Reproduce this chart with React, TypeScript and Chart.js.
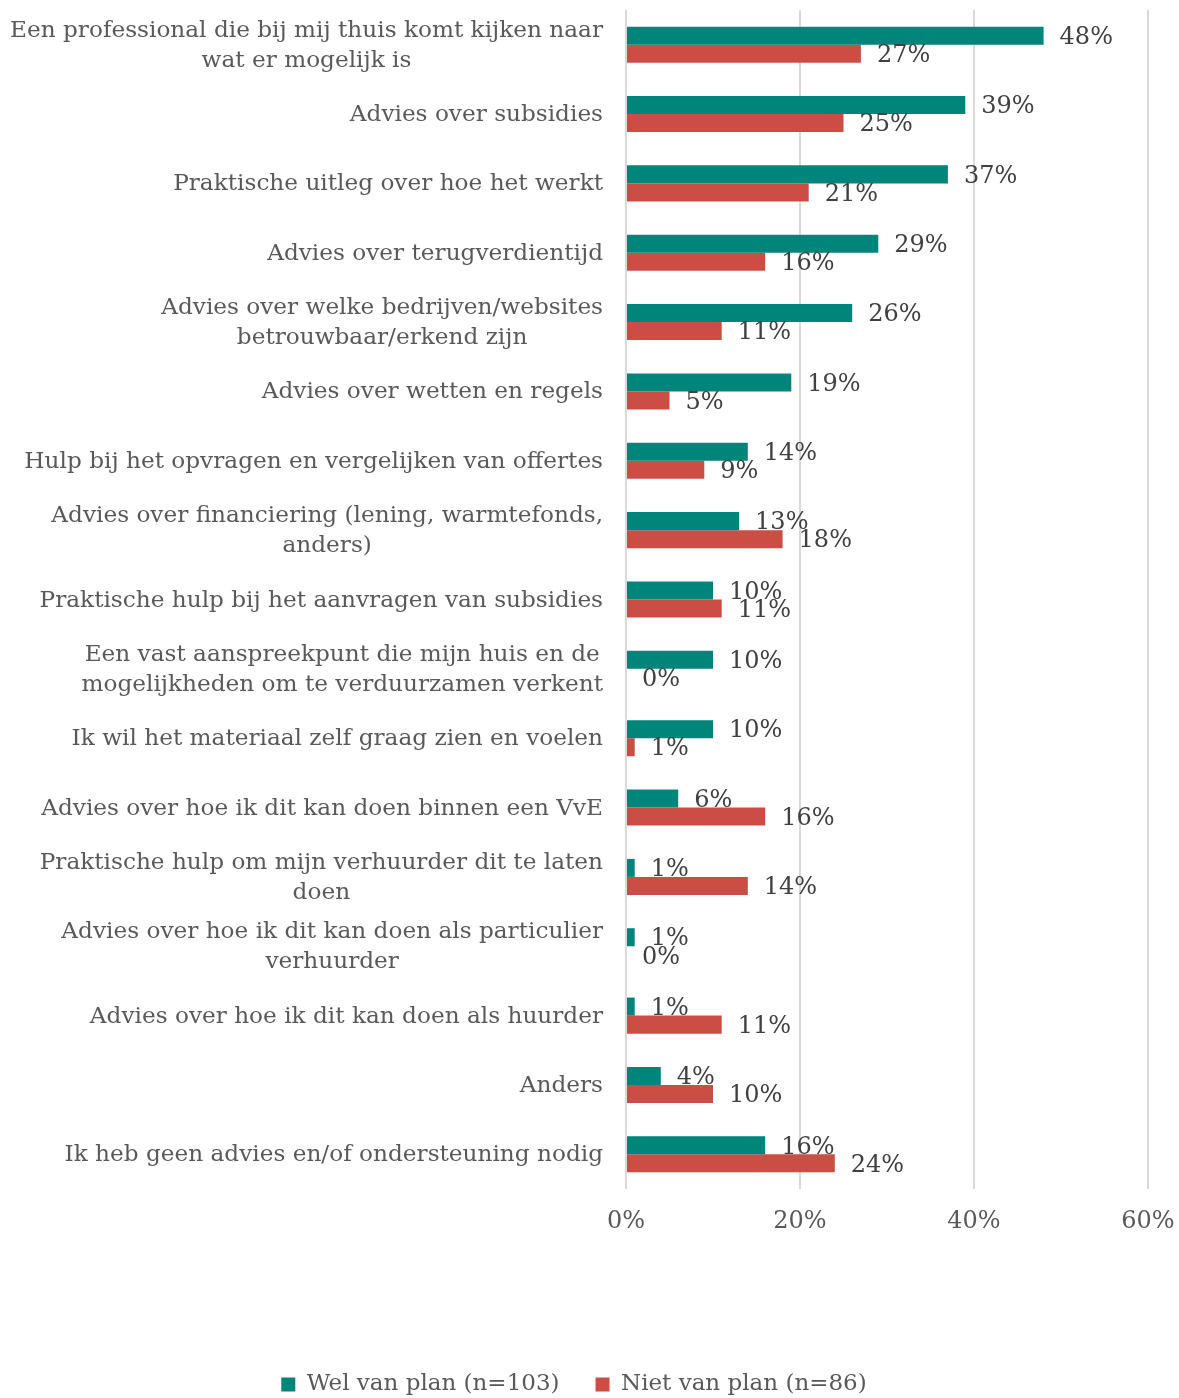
import { useEffect, useRef } from "react";
import { Chart, registerables } from "chart.js";

Chart.register(...registerables);

const categories: string[][] = [
  ["Een professional die bij mij thuis komt kijken naar", "wat er mogelijk is"],
  ["Advies over subsidies"],
  ["Praktische uitleg over hoe het werkt"],
  ["Advies over terugverdientijd"],
  ["Advies over welke bedrijven/websites", "betrouwbaar/erkend zijn"],
  ["Advies over wetten en regels"],
  ["Hulp bij het opvragen en vergelijken van offertes"],
  ["Advies over financiering (lening, warmtefonds,", "anders)"],
  ["Praktische hulp bij het aanvragen van subsidies"],
  ["Een vast aanspreekpunt die mijn huis en de", "mogelijkheden om te verduurzamen verkent"],
  ["Ik wil het materiaal zelf graag zien en voelen"],
  ["Advies over hoe ik dit kan doen binnen een VvE"],
  ["Praktische hulp om mijn verhuurder dit te laten", "doen"],
  ["Advies over hoe ik dit kan doen als particulier", "verhuurder"],
  ["Advies over hoe ik dit kan doen als huurder"],
  ["Anders"],
  ["Ik heb geen advies en/of ondersteuning nodig"],
];

const welVanPlan = [48, 39, 37, 29, 26, 19, 14, 13, 10, 10, 10, 6, 1, 1, 1, 4, 16];
const nietVanPlan = [27, 25, 21, 16, 11, 5, 9, 18, 11, 0, 1, 16, 14, 0, 11, 10, 24];

const seriesNames = ["Wel van plan (n=103)", "Niet van plan (n=86)"];
const seriesColors = ["#00857A", "#CB4D44"];

const xTickValues = [0, 20, 40, 60];

const FONT = "'DejaVu Serif', serif";

const categoryLabelPlugin = {
  id: "categoryLabels",
  afterDraw(chart: any) {
    const { ctx } = chart;
    const yScale = chart.scales.y;
    const right = chart.chartArea.left - 23;
    ctx.save();
    ctx.font = `23.2px ${FONT}`;
    ctx.fillStyle = "#595959";
    ctx.textBaseline = "middle";
    ctx.textAlign = "center";
    categories.forEach((lines, i) => {
      const cy = yScale.getPixelForValue(i);
      const w = Math.max(...lines.map((l) => ctx.measureText(l).width));
      const cx = right - w / 2;
      lines.forEach((l, j) => {
        ctx.fillText(l, cx, cy + 1 + (j - (lines.length - 1) / 2) * 30);
      });
    });
    ctx.restore();
  },
};

const valueLabelPlugin = {
  id: "valueLabels",
  afterDatasetsDraw(chart: any) {
    const { ctx } = chart;
    ctx.save();
    ctx.font = `24px ${FONT}`;
    ctx.fillStyle = "#404040";
    ctx.textBaseline = "middle";
    ctx.textAlign = "left";
    chart.data.datasets.forEach((ds: any, d: number) => {
      const meta = chart.getDatasetMeta(d);
      meta.data.forEach((el: any, i: number) => {
        ctx.fillText(`${ds.data[i]}%`, el.x + 16, el.y + 2);
      });
    });
    ctx.restore();
  },
};

export default function App() {
  const canvasRef = useRef<HTMLCanvasElement | null>(null);

  useEffect(() => {
    document.body.style.margin = "0";
    const canvas = canvasRef.current;
    if (!canvas) return;
    const chart = new Chart(canvas, {
      type: "bar",
      data: {
        labels: categories.map((c) => c.join(" ")),
        datasets: [
          {
            label: seriesNames[0],
            data: welVanPlan,
            backgroundColor: seriesColors[0],
            categoryPercentage: 0.52,
            barPercentage: 1,
          },
          {
            label: seriesNames[1],
            data: nietVanPlan,
            backgroundColor: seriesColors[1],
            categoryPercentage: 0.52,
            barPercentage: 1,
          },
        ],
      },
      options: {
        indexAxis: "y",
        animation: false,
        responsive: true,
        maintainAspectRatio: false,
        layout: { padding: { left: 0, right: 31, top: 10, bottom: -8 } },
        scales: {
          x: {
            min: 0,
            max: 60,
            afterBuildTicks(scale: any) {
              scale.ticks = xTickValues.map((v) => ({ value: v }));
            },
            afterFit(scale: any) {
              scale.height = 148;
              scale.paddingLeft = 0;
              scale.paddingRight = 0;
            },
            grid: { color: "#D9D9D9", lineWidth: 2, drawTicks: false },
            border: { display: false },
            ticks: {
              padding: 18,
              color: "#595959",
              font: { family: FONT, size: 24 },
              callback: (v: any) => `${v}%`,
            },
          },
          y: {
            grid: { display: false },
            border: { display: false },
            ticks: { display: false },
            afterFit(scale: any) {
              scale.width = 626;
            },
          },
        },
        plugins: {
          legend: {
            position: "bottom",
            labels: {
              boxWidth: 14,
              boxHeight: 14,
              padding: 36,
              color: "#595959",
              font: { family: FONT, size: 23 },
            },
          },
          tooltip: { enabled: false },
        },
      },
      plugins: [categoryLabelPlugin, valueLabelPlugin],
    });
    return () => chart.destroy();
  }, []);

  return (
    <div style={{ position: "relative", width: "1179px", height: "1398px" }}>
      <canvas ref={canvasRef} />
    </div>
  );
}
